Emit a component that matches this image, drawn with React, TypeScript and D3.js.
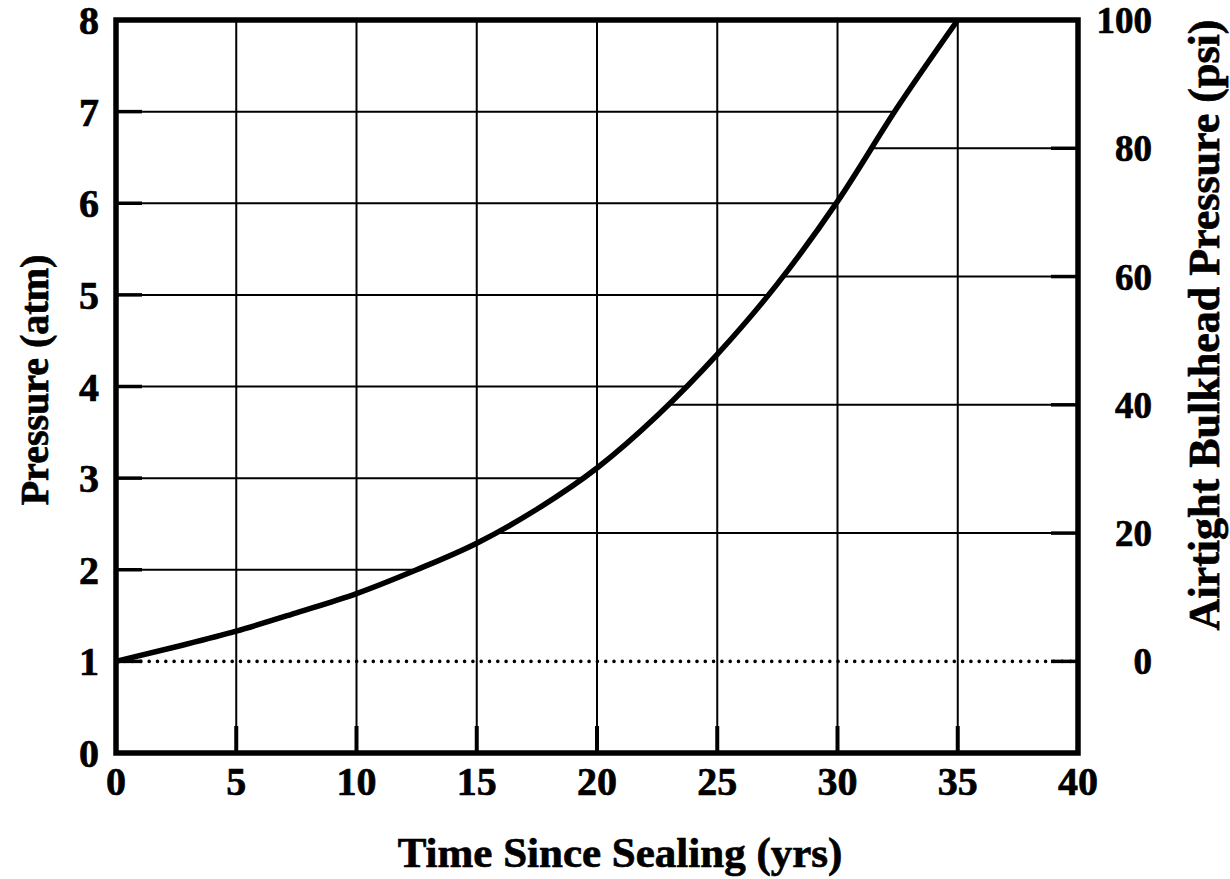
import React from "react";
import * as d3 from "d3";

const years = [0, 2.5, 5, 7.5, 10, 12.5, 15, 17.5, 20, 22.5, 25, 27.5, 30, 32.5, 35];
const pressureAtm = [1.0, 1.16, 1.33, 1.53, 1.74, 2.0, 2.29, 2.66, 3.11, 3.68, 4.35, 5.12, 6.02, 7.05, 8.0];

const xTicks = [0, 5, 10, 15, 20, 25, 30, 35, 40];
const atmTicks = [0, 1, 2, 3, 4, 5, 6, 7, 8];
const psiTicks = [0, 20, 40, 60, 80, 100];

const W = 1230;
const H = 879;
const FONT = "'Liberation Serif', 'Times New Roman', serif";

export default function App() {
  const x = d3.scaleLinear().domain([0, 40]).range([116, 1078]);
  const y = d3.scaleLinear().domain([0, 8]).range([753, 20]);
  const yPsi = d3.scaleLinear().domain([0, 100]).range([y(1), y(8)]);

  const data = years.map((t, i) => ({ t, p: pressureAtm[i] }));
  const line = d3
    .line<{ t: number; p: number }>()
    .x((d) => x(d.t))
    .y((d) => y(d.p))
    .curve(d3.curveMonotoneX);

  // year at which the curve reaches a given atm level
  const crossing = (level: number) => {
    for (let i = 0; i < data.length - 1; i++) {
      const a = data[i];
      const b = data[i + 1];
      if (level >= a.p && level <= b.p) {
        return a.t + ((level - a.p) / (b.p - a.p)) * (b.t - a.t);
      }
    }
    return 40;
  };

  const psiToAtm = (v: number) => y.invert(yPsi(v));

  const [x0, x1] = x.range();
  const [yb, yt] = y.range();
  const textStroke = { stroke: "#000", strokeWidth: 0.7 };

  return (
    <svg
      width={W}
      height={H}
      style={{ position: "absolute", left: 0, top: 0, background: "#fff" }}
      fontFamily={FONT}
      fontWeight="bold"
    >
      <rect x={0} y={0} width={W} height={H} fill="#fff" />
      {/* vertical grid */}
      {xTicks
        .filter((t) => t > 0 && t < 40)
        .map((t) => (
          <line key={"vx" + t} x1={x(t)} x2={x(t)} y1={yb} y2={yt} stroke="#000" strokeWidth={2} />
        ))}
      {/* atm gridlines: from left axis to the curve */}
      {atmTicks
        .filter((v) => v >= 2 && v <= 7)
        .map((v) => (
          <line key={"ha" + v} x1={x0} x2={x(crossing(v))} y1={y(v)} y2={y(v)} stroke="#000" strokeWidth={2} />
        ))}
      {/* psi gridlines: from curve to right axis */}
      {psiTicks
        .filter((v) => v > 0 && v < 100)
        .map((v) => (
          <line
            key={"hp" + v}
            x1={x(crossing(psiToAtm(v)))}
            x2={x1}
            y1={yPsi(v)}
            y2={yPsi(v)}
            stroke="#000"
            strokeWidth={2}
          />
        ))}
      {/* 1 atm / 0 psi dotted reference */}
      <line
        x1={x0}
        x2={x1}
        y1={y(1)}
        y2={y(1)}
        stroke="#000"
        strokeWidth={3.6}
        strokeDasharray="0 8.3"
        strokeLinecap="round"
      />
      {/* ticks */}
      {xTicks
        .filter((t) => t > 0 && t < 40)
        .map((t) => (
          <line key={"tx" + t} x1={x(t)} x2={x(t)} y1={yb} y2={yb - 27} stroke="#000" strokeWidth={4} />
        ))}
      {atmTicks
        .filter((v) => v > 0 && v < 8)
        .map((v) => (
          <line key={"ta" + v} x1={x0} x2={x0 + 26} y1={y(v)} y2={y(v)} stroke="#000" strokeWidth={3.5} />
        ))}
      {psiTicks
        .filter((v) => v < 100)
        .map((v) => (
          <line key={"tp" + v} x1={x1} x2={x1 - 27} y1={yPsi(v)} y2={yPsi(v)} stroke="#000" strokeWidth={3.5} />
        ))}
      {/* curve */}
      <path d={line(data) || ""} fill="none" stroke="#000" strokeWidth={5.5} strokeLinejoin="round" />
      {/* frame */}
      <rect x={x0} y={yt} width={x1 - x0} height={yb - yt} fill="none" stroke="#000" strokeWidth={5.5} />
      {/* left labels */}
      {atmTicks.map((v) => (
        <text key={"la" + v} x={99} y={y(v)} dy="0.35em" textAnchor="end" fontSize={40} {...textStroke}>
          {v}
        </text>
      ))}
      {/* bottom labels */}
      {xTicks.map((t) => (
        <text key={"lx" + t} x={x(t)} y={795} textAnchor="middle" fontSize={40} {...textStroke}>
          {t}
        </text>
      ))}
      {/* right labels */}
      {psiTicks.map((v) => (
        <text key={"lp" + v} x={1152} y={yPsi(v)} dy="0.35em" textAnchor="end" fontSize={37} {...textStroke}>
          {v}
        </text>
      ))}
      {/* titles */}
      <text x={620} y={867} textAnchor="middle" fontSize={43} {...textStroke}>
        Time Since Sealing (yrs)
      </text>
      <text transform="translate(48,380) rotate(-90)" textAnchor="middle" fontSize={40} {...textStroke}>
        Pressure (atm)
      </text>
      <text transform="translate(1219,325) rotate(-90)" textAnchor="middle" fontSize={44} {...textStroke}>
        Airtight Bulkhead Pressure (psi)
      </text>
    </svg>
  );
}
